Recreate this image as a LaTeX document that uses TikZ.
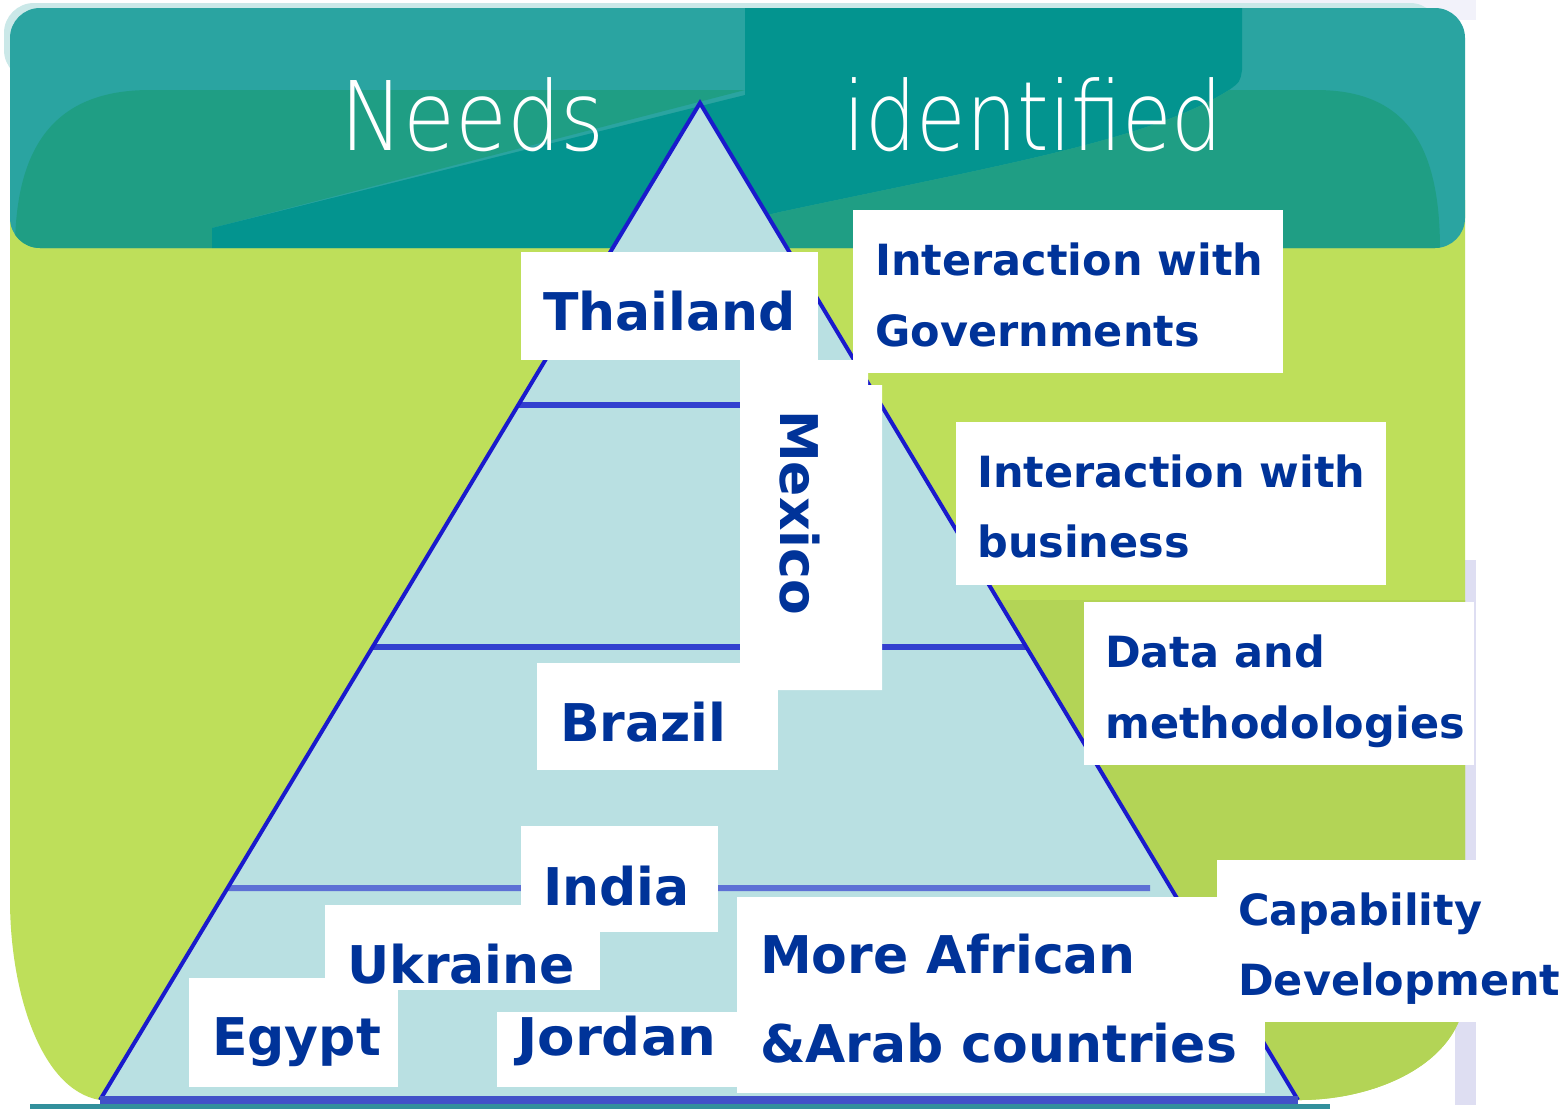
\documentclass[tikz,border=0pt]{standalone}
\usepackage{fontspec}
\setmainfont{DejaVu Sans}
\IfFontExistsTF{DejaVuSans-ExtraLight.ttf}{\newfontfamily\thinfont{DejaVuSans-ExtraLight.ttf}}{\newfontfamily\thinfont{Liberation Sans}}
\usepackage{tikz}
\usetikzlibrary{calc}
\definecolor{tealA}{HTML}{2AA4A1}
\definecolor{tealB}{HTML}{1F9E84}
\definecolor{tealC}{HTML}{03948F}
\definecolor{lime}{HTML}{BEDF5A}
\definecolor{limedark}{HTML}{B3D456}
\definecolor{lav}{HTML}{DEDEF2}
\definecolor{pyr}{HTML}{B9E0E2}
\definecolor{edge}{HTML}{1A1ACC}
\definecolor{band}{HTML}{3340CF}
\definecolor{bandlight}{HTML}{5D70D5}
\definecolor{base}{HTML}{4151C8}
\definecolor{ink}{HTML}{003399}

\begin{document}
\begin{tikzpicture}[x=1pt,y=-1pt,
  big/.style={anchor=base west,inner sep=0pt,text=ink,font=\bfseries\fontsize{52}{52}\selectfont},
  small/.style={anchor=base west,inner sep=0pt,text=ink,font=\bfseries\fontsize{43}{43}\selectfont},
  head/.style={anchor=base west,inner sep=0pt,text=white,font=\thinfont\fontsize{96}{96}\selectfont},
  card/.style={fill=white},
  tier/.style={line width=6pt,color=band}]
\useasboundingbox (0,0) rectangle (1566,1109);
\fill[white] (0,0) rectangle (1566,1109);
\fill[lav!40] (1200,0) rectangle (1476,20);
\fill[lav] (1455,560) rectangle (1476,1105);
% green body
\fill[lime] (10,200) -- (1465,200) -- (1465,990) .. controls (1465,1060) and (1380,1100) .. (1300,1100) -- (100,1100) .. controls (40,1090) and (10,990) .. (10,900) -- cycle;
\begin{scope}
  \clip (10,200) -- (1465,200) -- (1465,990) .. controls (1465,1060) and (1380,1100) .. (1300,1100) -- (100,1100) -- cycle;
  \fill[limedark] (1000,600) rectangle (1470,1110);
\end{scope}
\fill[tealB!70!bandlight] (30,1104) rectangle (1330,1109);
% header
\fill[tealA!25,rounded corners=30pt] (4,3) rectangle (1440,80);
\begin{scope}
  \clip[rounded corners=30pt] (10,8) rectangle (1465,248);
  \fill[tealA] (0,0) rectangle (1470,250);
  \fill[tealB] (150,90) -- (745,90) -- (212,228) -- (212,250) -- (15,250) .. controls (15,140) and (60,90) .. (150,90);
  \fill[tealC] (212,250) -- (212,228) -- (745,95) -- (745,0) -- (1242,0) -- (1242,70) .. controls (1240,82) .. (1229,90) .. controls (1150,140) and (1000,165) .. (780,212) -- (620,250) -- cycle;
  \fill[tealB] (620,250) -- (780,212) .. controls (1000,165) and (1150,140) .. (1229,90) -- (1316,90) .. controls (1410,90) and (1440,150) .. (1440,250) -- cycle;
\end{scope}
\node[head,xscale=0.88] (needs) at (340,150) {Needs};
\node[head,xscale=0.84] (ident) at (843,150) {identified};
% pyramid
\coordinate (apex) at (700,103);
\coordinate (bl) at (100,1100);
\coordinate (br) at (1298,1100);
\fill[pyr] (apex) -- (bl) -- (br) -- cycle;
\draw[tier] ($(apex)!0.3029!(bl)$) -- ($(apex)!0.3029!(br)$);
\draw[tier] ($(apex)!0.5456!(bl)$) -- ($(apex)!0.5456!(br)$);
\draw[tier,bandlight] ($(apex)!0.7874!(bl)$) -- (1150,888);
\draw[line width=4pt,edge] (bl) -- (apex) -- (br);
\draw[line width=8pt,base] (bl) -- (br);
% white cards
\fill[card] (521,252) rectangle (818,360);
\fill[card] (740,360) -- (868,360) -- (868,385) -- (882,385) -- (882,690) -- (740,690) -- cycle;
\fill[card] (537,663) rectangle (778,770);
\fill[card] (521,826) rectangle (718,932);
\fill[card] (325,905) rectangle (600,990);
\fill[card] (189,978) rectangle (398,1087);
\fill[card] (497,1012) rectangle (737,1087);
\fill[card] (737,897) rectangle (1265,1093);
\fill[card] (853,210) rectangle (1283,373);
\fill[card] (956,422) rectangle (1386,585);
\fill[card] (1084,602) rectangle (1474,765);
\fill[card] (1217,860) rectangle (1566,1022);
% countries
\node[big] (th) at (543,330) {Thailand};
\node[big,rotate=-90] (mx) at (780,410) {Mexico};
\node[big] (br2) at (560,741) {Brazil};
\node[big] (in) at (543,905) {India};
\node[big] (uk) at (347,983) {Ukraine};
\node[big] (eg) at (212,1055) {Egypt};
\node[big,xscale=1.05] (jo) at (517,1055) {Jordan};
\node[big] (af) at (760,973) {More African};
\node[big] (ar) at (760,1062) {\&Arab countries};
% needs
\node[small] (gov) at (875,275) {Interaction with};
\node[small] (gov2) at (875,346) {Governments};
\node[small] (bus) at (977,487) {Interaction with};
\node[small] (bus2) at (977,557) {business};
\node[small] (dat) at (1105,667) {Data and};
\node[small] (dat2) at (1105,738) {methodologies};
\node[small] (cap) at (1238,925) {Capability};
\node[small] (cap2) at (1238,995) {Development};
\end{tikzpicture}
\end{document}
